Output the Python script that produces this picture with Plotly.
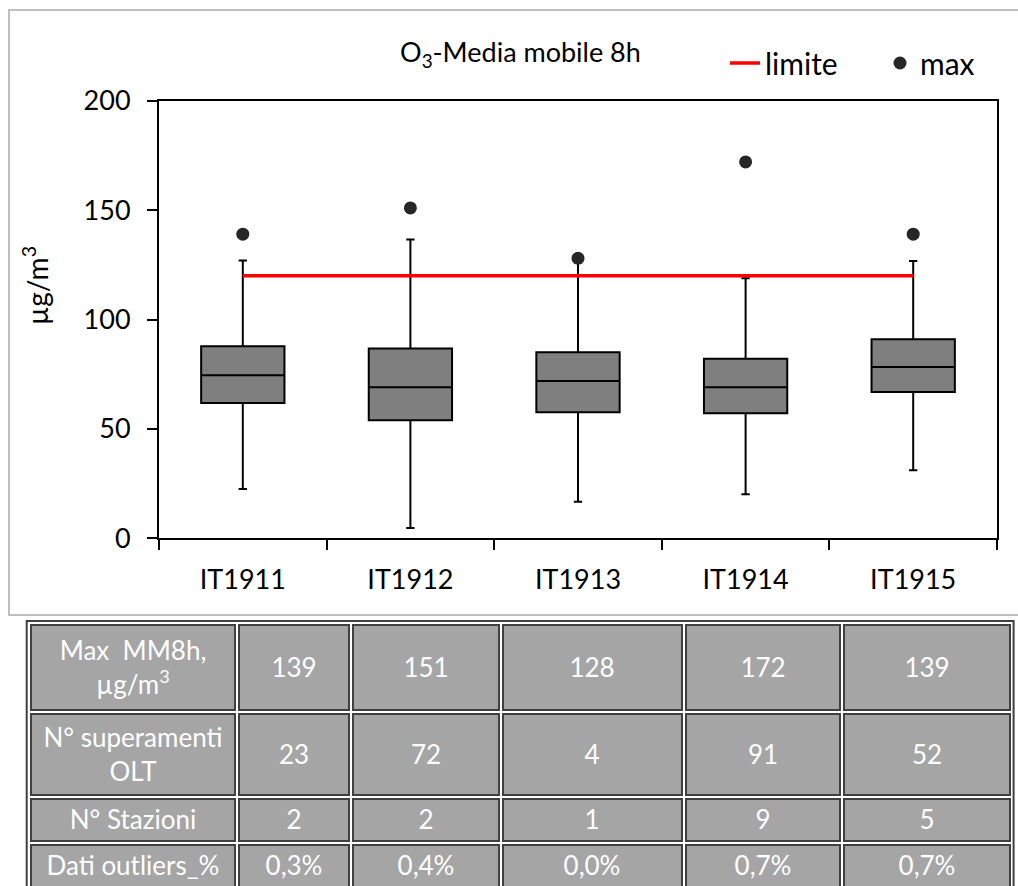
import plotly.graph_objects as go

# ---------------- data ----------------
stations = ["IT1911", "IT1912", "IT1913", "IT1914", "IT1915"]
q1 = [61.8, 54.0, 57.6, 57.1, 66.9]
median = [74.5, 69.0, 71.9, 69.0, 78.3]
q3 = [87.8, 86.8, 85.0, 82.1, 91.0]
lower_whisker = [22.5, 4.7, 16.7, 20.1, 31.1]
upper_whisker = [127.0, 136.6, 126.0, 118.8, 126.7]
max_mm8h = [139, 151, 128, 172, 139]
limit_value = 120
superamenti = [23, 72, 4, 91, 52]
n_stazioni = [2, 2, 1, 9, 5]
outliers_pct = ["0,3%", "0,4%", "0,0%", "0,7%", "0,7%"]

row_labels = ["Max  MM8h,<br>µg/m<sup>3</sup>", "N° superamenti<br>OLT", "N° Stazioni", "Dati outliers_%"]
y_ticks = [0, 50, 100, 150, 200]

# ---------------- style constants ----------------
FONT = "Lato"
W, H = 1018, 886
COL_WIDTHS = [207.7, 113.8, 150.8, 182.3, 158.3, 170.1]
ROW_HEIGHTS = [89.4, 84.3, 46.2, 46.0]
TABLE_LEFT, TABLE_TOP = 29.0, 623.0

fig = go.Figure()

fig.add_trace(go.Box(
    x=stations, q1=q1, median=median, q3=q3,
    lowerfence=lower_whisker, upperfence=upper_whisker,
    boxpoints=False, fillcolor="#7f7f7f",
    line=dict(color="black", width=2), whiskerwidth=0.1,
    showlegend=False, hoverinfo="skip",
))

fig.add_trace(go.Scatter(
    x=stations, y=[limit_value] * len(stations), mode="lines",
    line=dict(color="#ff0000", width=3.5), name="limite",
))

fig.add_trace(go.Scatter(
    x=stations, y=max_mm8h, mode="markers",
    marker=dict(color="#262626", size=13), name="max",
))

# ---------------- table (heatmap cells) ----------------
table_text = [
    [row_labels[0]] + [str(v) for v in max_mm8h],
    [row_labels[1]] + [str(v) for v in superamenti],
    [row_labels[2]] + [str(v) for v in n_stazioni],
    [row_labels[3]] + list(outliers_pct),
]
n_rows, n_cols = len(table_text), len(table_text[0])

x_edges = [0.0]
for w_ in COL_WIDTHS:
    x_edges.append(x_edges[-1] + w_)
y_edges = [0.0]
for h_ in ROW_HEIGHTS:
    y_edges.append(y_edges[-1] + h_)
z_cells = [[1] * n_cols for _ in range(n_rows)]

# dark cell borders
fig.add_trace(go.Heatmap(
    x=x_edges, y=y_edges, z=z_cells, xaxis="x2", yaxis="y2",
    colorscale=[[0, "#404040"], [1, "#404040"]], showscale=False,
    xgap=2, ygap=2, hoverinfo="skip",
))
# gray cell fill with text
fig.add_trace(go.Heatmap(
    x=x_edges, y=y_edges, z=z_cells, xaxis="x2", yaxis="y2",
    colorscale=[[0, "#a5a5a5"], [1, "#a5a5a5"]], showscale=False,
    xgap=6, ygap=6, hoverinfo="skip",
    text=table_text, texttemplate="%{text}",
    textfont=dict(family=FONT, size=26, color="white"),
))

table_width = x_edges[-1]
visible_height = H - TABLE_TOP

# ---------------- layout ----------------
fig.update_layout(
    width=W, height=H,
    margin=dict(l=0, r=0, t=0, b=0, autoexpand=False),
    paper_bgcolor="white", plot_bgcolor="white",
    font=dict(family=FONT, color="black"),
    boxgap=0.29,
    xaxis=dict(
        domain=[159 / W, 997 / W],
        showline=True, linecolor="black", linewidth=2, mirror=True,
        ticks="outside", tickson="boundaries", ticklen=10, tickwidth=2, tickcolor="black",
        tickfont=dict(family=FONT, size=27, color="black"), ticklabelstandoff=16,
        showgrid=False, zeroline=False,
    ),
    yaxis=dict(
        domain=[1 - 538.3 / H, 1 - 100.7 / H],
        range=[0, 200], tickvals=y_ticks,
        showline=True, linecolor="black", linewidth=2, mirror=True,
        ticks="outside", ticklen=10, tickwidth=2, tickcolor="black",
        tickfont=dict(family=FONT, size=27, color="black"), ticklabelstandoff=11,
        showgrid=False, zeroline=False,
    ),
    xaxis2=dict(
        domain=[TABLE_LEFT / W, (TABLE_LEFT + table_width) / W],
        range=[0, table_width], anchor="y2",
        showgrid=False, zeroline=False, showticklabels=False, ticks="", showline=False,
        fixedrange=True,
    ),
    yaxis2=dict(
        domain=[0, 1 - TABLE_TOP / H],
        range=[visible_height, 0], anchor="x2",
        showgrid=False, zeroline=False, showticklabels=False, ticks="", showline=False,
        fixedrange=True,
    ),
    legend=dict(
        orientation="h", x=725 / W, xanchor="left", y=1 - 63 / H, yanchor="middle",
        font=dict(family=FONT, size=30, color="black"),
        bgcolor="rgba(0,0,0,0)", itemwidth=30, entrywidth=110,
    ),
    showlegend=True,
)

# outer chart frame
fig.add_shape(type="rect", xref="paper", yref="paper",
              x0=9 / W, x1=1.01, y0=1 - 615 / H, y1=1 - 10 / H,
              line=dict(color="#bfbfbf", width=2), fillcolor="rgba(0,0,0,0)", layer="below")
# outer table border (double line)
fig.add_shape(type="rect", xref="paper", yref="paper",
              x0=(TABLE_LEFT - 2.3) / W, x1=(TABLE_LEFT + table_width + 1.6) / W,
              y0=-0.02, y1=1 - (TABLE_TOP - 2.0) / H,
              line=dict(color="#404040", width=2), fillcolor="rgba(0,0,0,0)", layer="above")

fig.add_annotation(text="O<sub>3</sub>-Media mobile 8h", xref="paper", yref="paper",
                   x=520 / W, y=1 - 53 / H, xanchor="center", yanchor="middle", showarrow=False,
                   font=dict(family=FONT, size=27, color="black"))
fig.add_annotation(text="µg/m<sup>3</sup>", xref="paper", yref="paper",
                   x=35 / W, y=1 - 286 / H, xanchor="center", yanchor="middle",
                   textangle=-90, showarrow=False,
                   font=dict(family=FONT, size=28, color="black"))

fig.write_html(
    "out.html",
    config={"displayModeBar": False},
    post_script="document.body.style.margin='0';document.body.style.overflow='hidden';",
)
